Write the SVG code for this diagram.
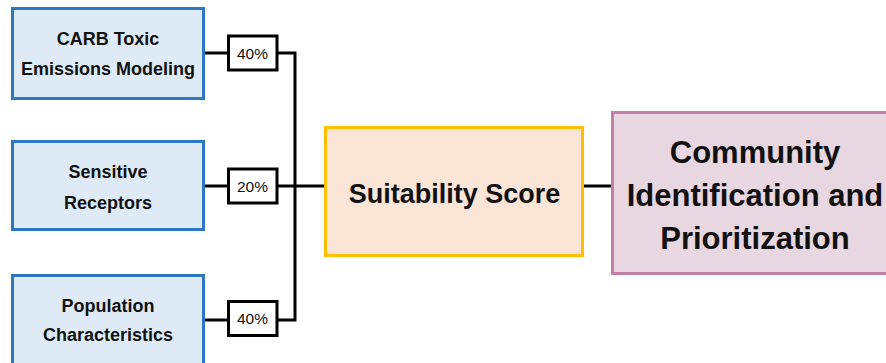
<svg xmlns="http://www.w3.org/2000/svg" width="886" height="363" viewBox="0 0 886 363">
<style>
.src rect{fill:#DEEBF7;stroke:#2E78C2;stroke-width:3}
.src text{font-family:"Liberation Sans",Arial,sans-serif;font-weight:bold;font-size:18px;fill:#111;text-anchor:middle}
.pct rect{fill:#fff;stroke:#000;stroke-width:3}
.pct text{font-family:"Liberation Sans",Arial,sans-serif;font-size:15.5px;fill:#111;text-anchor:middle}
.conn{stroke:#000;stroke-width:3;fill:none}
</style>
<rect width="886" height="363" fill="#fff"/>
<g id="connectors" class="conn">
<polyline points="205,53 229,53"/>
<polyline points="277,53 295,53 295,320 277,320"/>
<polyline points="205,320 229,320"/>
<polyline points="205,186 325,186"/>
<polyline points="584,186 612,186"/>
</g>
<g id="carb" class="src">
<rect x="12.5" y="8.5" width="191" height="90"/>
<text x="108" y="45">CARB Toxic</text>
<text x="108" y="75">Emissions Modeling</text>
</g>
<g id="sensitive" class="src">
<rect x="12.5" y="141.5" width="191" height="88"/>
<text x="108" y="178">Sensitive</text>
<text x="108" y="209">Receptors</text>
</g>
<g id="population" class="src">
<rect x="12.5" y="275.5" width="191" height="100"/>
<text x="108" y="312">Population</text>
<text x="108" y="341">Characteristics</text>
</g>
<g id="w1" class="pct">
<rect x="228.5" y="36" width="48.5" height="34"/>
<text x="252.5" y="58.5">40%</text>
</g>
<g id="w2" class="pct">
<rect x="228.5" y="169" width="48.5" height="34"/>
<text x="252.5" y="191.5">20%</text>
</g>
<g id="w3" class="pct">
<rect x="228.5" y="301.5" width="48.5" height="34"/>
<text x="252.5" y="324">40%</text>
</g>
<g id="suitability">
<rect x="325.5" y="127.5" width="257" height="128" fill="#FBE5D6" stroke="#FFC000" stroke-width="3"/>
<text x="454.5" y="203" font-family="'Liberation Sans',Arial,sans-serif" font-weight="bold" font-size="27" fill="#111" text-anchor="middle">Suitability Score</text>
</g>
<g id="community">
<rect x="612.5" y="112.5" width="290" height="161" fill="#E8D6E1" stroke="#C27FA6" stroke-width="3"/>
<g font-family="'Liberation Sans',Arial,sans-serif" font-weight="bold" font-size="31" fill="#111" text-anchor="middle">
<text x="755" y="163">Community</text>
<text x="755" y="206">Identification and</text>
<text x="755" y="249">Prioritization</text>
</g>
</g>
</svg>
